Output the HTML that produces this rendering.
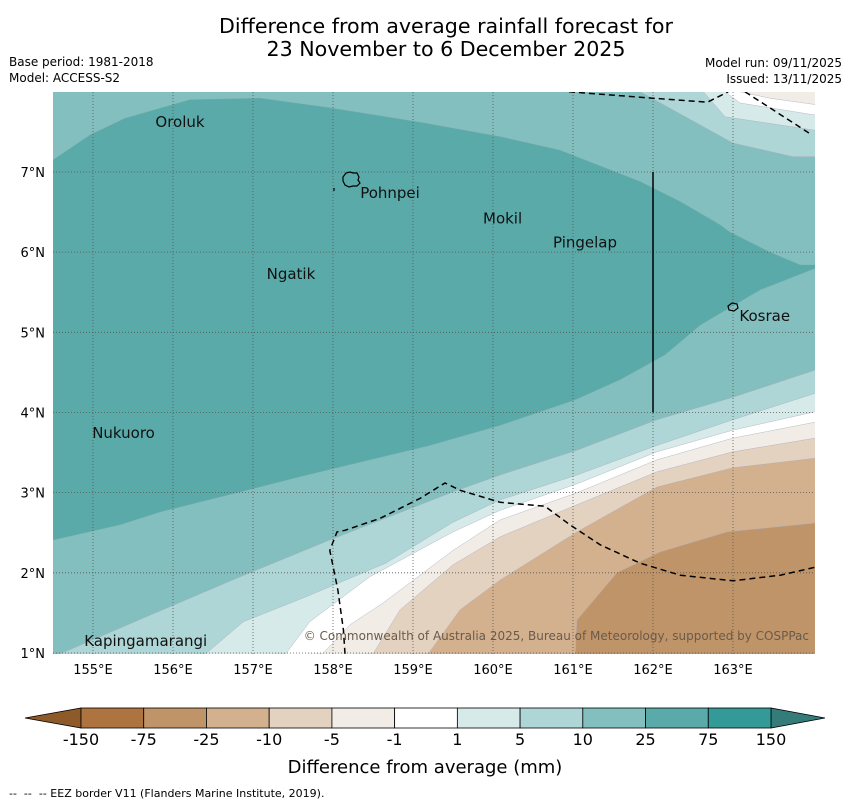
<!DOCTYPE html>
<html><head><meta charset="utf-8">
<style>
body{margin:0;background:#fff;width:850px;height:804px;overflow:hidden;font-family:"DejaVu Sans","Liberation Sans",sans-serif;}
svg{display:block}
</style></head>
<body>
<svg id="chart" width="850" height="804" xmlns="http://www.w3.org/2000/svg" font-family="DejaVu Sans, Liberation Sans, sans-serif">
<text x="446" y="33" font-size="20.6" text-anchor="middle">Difference from average rainfall forecast for</text>
<text x="446" y="56" font-size="20.6" text-anchor="middle">23 November to 6 December 2025</text>
<text x="9" y="66" font-size="12">Base period: 1981-2018</text>
<text x="9" y="82" font-size="12">Model: ACCESS-S2</text>
<text x="842" y="67" font-size="12" text-anchor="end">Model run: 09/11/2025</text>
<text x="842" y="83" font-size="12" text-anchor="end">Issued: 13/11/2025</text>
<defs><clipPath id="mapclip"><rect x="53" y="92" width="762" height="562"/></clipPath></defs>
<g id="map" clip-path="url(#mapclip)"></g>
<g id="axes"></g>
<g id="cbar"></g>
<text x="425" y="773" font-size="18" text-anchor="middle">Difference from average (mm)</text>
<text x="9" y="797" font-size="11" xml:space="preserve">--  --  -- EEZ border V11 (Flanders Marine Institute, 2019).</text>
</svg>
<script>
// ---- data (lon/lat) ----
const lonTicks=[155,156,157,158,159,160,161,162,163];
const latTicks=[1,2,3,4,5,6,7];
// 25-75 mm region
const wetLon=[154.5,154.96,155.40,156.21,157.09,157.96,159.09,160.09,160.84,161.84,162.34,162.84,162.96,163.46,163.84,164.03,164.03,163.34,162.59,162.15,161.59,161.03,160.09,159.21,158.46,157.59,156.84,155.84,155.34,154.5];
const wetLat=[7.15,7.46,7.67,7.90,7.92,7.80,7.62,7.44,7.27,6.88,6.63,6.34,6.25,6.00,5.84,5.84,5.80,5.53,5.09,4.72,4.41,4.16,3.84,3.59,3.41,3.20,3.01,2.76,2.60,2.41];
// lower contour lines (filled below, to the bottom-right)
const c1Lon=[154.59,155.71,156.84,157.96,159.50,160.09,161.05,162.05,163.0,164.03];
const c1Lat=[0.99,1.47,1.95,2.41,3.01,3.22,3.53,3.91,4.19,4.53];
const c2Lon=[156.41,156.88,157.66,158.66,159.50,160.09,161.05,162.05,163.0,164.03];
const c2Lat=[0.99,1.39,1.70,2.12,2.63,2.91,3.22,3.59,3.91,4.24];
const c3Lon=[157.41,157.71,158.46,159.50,160.09,161.05,162.05,163.0,164.03];
const c3Lat=[0.99,1.39,1.95,2.51,2.78,3.11,3.51,3.78,4.01];
const c4Lon=[157.87,158.21,158.62,159.50,160.09,161.05,162.05,163.0,164.03];
const c4Lat=[0.99,1.35,1.62,2.28,2.66,3.0,3.41,3.68,3.88];
const c5Lon=[158.50,158.84,159.50,160.09,161.05,162.05,163.0,164.03];
const c5Lat=[0.99,1.54,2.10,2.45,2.85,3.26,3.51,3.68];
const c6Lon=[159.19,159.59,160.09,161.05,162.05,163.0,164.03];
const c6Lat=[0.99,1.54,1.91,2.51,3.07,3.31,3.43];
const c7Lon=[161.03,161.05,161.55,162.09,162.93,164.03];
const c7Lat=[0.99,1.41,2.0,2.26,2.51,2.62];
// top-right contours (filled toward top-right corner)
const t1Lon=[161.84,163.0,163.75,164.03];const t1Lat=[8.0,7.36,7.19,7.19];
const t2Lon=[162.63,162.90,164.03];const t2Lat=[8.0,7.69,7.52];
const t3Lon=[162.90,163.09,164.03];const t3Lat=[8.0,7.86,7.71];
const t4Lon=[163.09,163.46,164.03];const t4Lat=[8.0,7.92,7.84];
// EEZ borders
const eezALon=[160.95,162.0,162.68,162.94];const eezALat=[8.0,7.92,7.87,8.0];
const eezBLon=[163.15,163.99];const eezBLat=[8.0,7.46];
const eezCLon=[158.15,158.13,158.06,157.96,158.05,158.15,158.59,159.09,159.40,159.59,160.09,160.65,160.96,161.34,161.84,162.34,163.0,163.59,164.03];
const eezCLat=[0.99,1.29,1.79,2.28,2.51,2.53,2.68,2.93,3.12,3.03,2.88,2.83,2.60,2.35,2.12,1.97,1.90,1.97,2.07];
const placeNames=["Oroluk","Pohnpei","Mokil","Pingelap","Ngatik","Kosrae","Nukuoro","Kapingamarangi"];
const placeLon=[155.78,158.34,159.875,160.75,157.17,163.08,154.99,154.89];
const placeLat=[7.56,6.675,6.36,6.06,5.665,5.14,3.68,1.09];
const cbLabels=["-150","-75","-25","-10","-5","-1","1","5","10","25","75","150"];
const cbColors=["#ae743f","#c09469","#d3b18f","#e4d2c0","#f1ece6","#ffffff","#d6eaea","#aed6d6","#84bfbf","#5aaaaa","#339a98"];

// ---- axis functions ----
const X=lon=>93+(lon-155)*80;
const Y=lat=>653-(lat-1)*80.17;
const NS="http://www.w3.org/2000/svg";
function mk(tag,attrs,parent){const e=document.createElementNS(NS,tag);for(const k in attrs)e.setAttribute(k,attrs[k]);parent.appendChild(e);return e;}
function pts(lo,la){return lo.map((v,i)=>X(v).toFixed(1)+","+Y(la[i]).toFixed(1));}
const map=document.getElementById('map');
const bg=mk('rect',{x:53,y:92,width:762,height:562,fill:'#84bfbf'},map);


const wet=mk('polygon',{points:pts(wetLon,wetLat).join(' '),fill:'#5aaaaa',stroke:'#7aa',"stroke-width":0.5},map);


const lows=[[c1Lon,c1Lat,'#aed6d6','band-5-10'],[c2Lon,c2Lat,'#d6eaea','band-1-5'],[c3Lon,c3Lat,'#ffffff','band-neutral'],[c4Lon,c4Lat,'#f1ece6','band-minus1-5'],[c5Lon,c5Lat,'#e4d2c0','band-minus5-10'],[c6Lon,c6Lat,'#d3b18f','band-minus10-25'],[c7Lon,c7Lat,'#c09469','band-minus25-75']];
lows.forEach(b=>{const p=pts(b[0],b[1]);p.push('820,660','50,660');
const e=mk('polygon',{points:p.join(' '),fill:b[2],stroke:'#aab',"stroke-width":0.4},map);

});
const highs=[[t1Lon,t1Lat,'#aed6d6','band-top-5-10'],[t2Lon,t2Lat,'#d6eaea','band-top-1-5'],[t3Lon,t3Lat,'#ffffff','band-top-neutral'],[t4Lon,t4Lat,'#f1ece6','band-top-minus1-5']];
highs.forEach(b=>{const p=pts(b[0],b[1]);p.push('820,88');
const e=mk('polygon',{points:p.join(' '),fill:b[2],stroke:'#aab',"stroke-width":0.4},map);

});
// grid
lonTicks.forEach(l=>{const g=mk('line',{x1:X(l),x2:X(l),y1:92,y2:654,stroke:'#555',"stroke-width":0.8,"stroke-dasharray":"1,2"},map);

});
latTicks.forEach(l=>{const g=mk('line',{x1:53,x2:815,y1:Y(l),y2:Y(l),stroke:'#555',"stroke-width":0.8,"stroke-dasharray":"1,2"},map);

});
// EEZ
[[eezALon,eezALat,'eez-border-north'],[eezBLon,eezBLat,'eez-border-northeast'],[eezCLon,eezCLat,'eez-border-south']].forEach(d=>{
const e=mk('polyline',{points:pts(d[0],d[1]).join(' '),fill:'none',stroke:'#000',"stroke-width":1.5,"stroke-dasharray":"6,4"},map);

});
// meridian line
const vl=mk('line',{x1:X(162),x2:X(162),y1:Y(7),y2:Y(4),stroke:'#000',"stroke-width":1.5},map);


// islands
const pi=mk('path',{d:"M343,177 l3,-4 l4,-1 l3,1 l4,0 l2,4 l-1,3 l2,3 l-3,3 l-4,0 l-4,1 l-4,-2 l-2,-4 z M334,188 l0,3",fill:'none',stroke:'#000',"stroke-width":1.2},map);


const ki=mk('path',{d:"M728,306 l4,-3 l5,1 l1,4 l-4,3 l-5,-1 z",fill:'none',stroke:'#000',"stroke-width":1.2},map);


placeNames.forEach((n,i)=>{const t=mk('text',{x:X(placeLon[i]),y:Y(placeLat[i]),"font-size":15,fill:'#111'},map);t.textContent=n;

});
const cp=mk('text',{x:809,y:640,"font-size":12,fill:'#6a5a4a',"text-anchor":"end"},map);
cp.textContent="© Commonwealth of Australia 2025, Bureau of Meteorology, supported by COSPPac";


// axes labels
const ax=document.getElementById('axes');
lonTicks.forEach(l=>{const t=mk('text',{x:X(l),y:674,"font-size":13,"text-anchor":"middle"},ax);t.textContent=l+"°E";

});
latTicks.forEach(l=>{const t=mk('text',{x:45,y:Y(l)+5,"font-size":13,"text-anchor":"end"},ax);t.textContent=l+"°N";

});
// colorbar
const cb=document.getElementById('cbar');
const x0=81,x1=771,w=(x1-x0)/cbColors.length;
const lt=mk('polygon',{points:`${x0},708 ${x0},728 25,718`,fill:'#8f5a2a',stroke:'#000',"stroke-width":0.8},cb);


const rt=mk('polygon',{points:`${x1},708 ${x1},728 825,718`,fill:'#347c7a',stroke:'#000',"stroke-width":0.8},cb);


cbColors.forEach((c,i)=>{const r=mk('rect',{x:x0+i*w,y:708,width:w,height:20,fill:c,stroke:'#000',"stroke-width":0.8},cb);

});
cbLabels.forEach((l,i)=>{const t=mk('text',{x:x0+i*w,y:745,"font-size":16,"text-anchor":"middle"},cb);t.textContent=l;

});
</script>
</body></html>
